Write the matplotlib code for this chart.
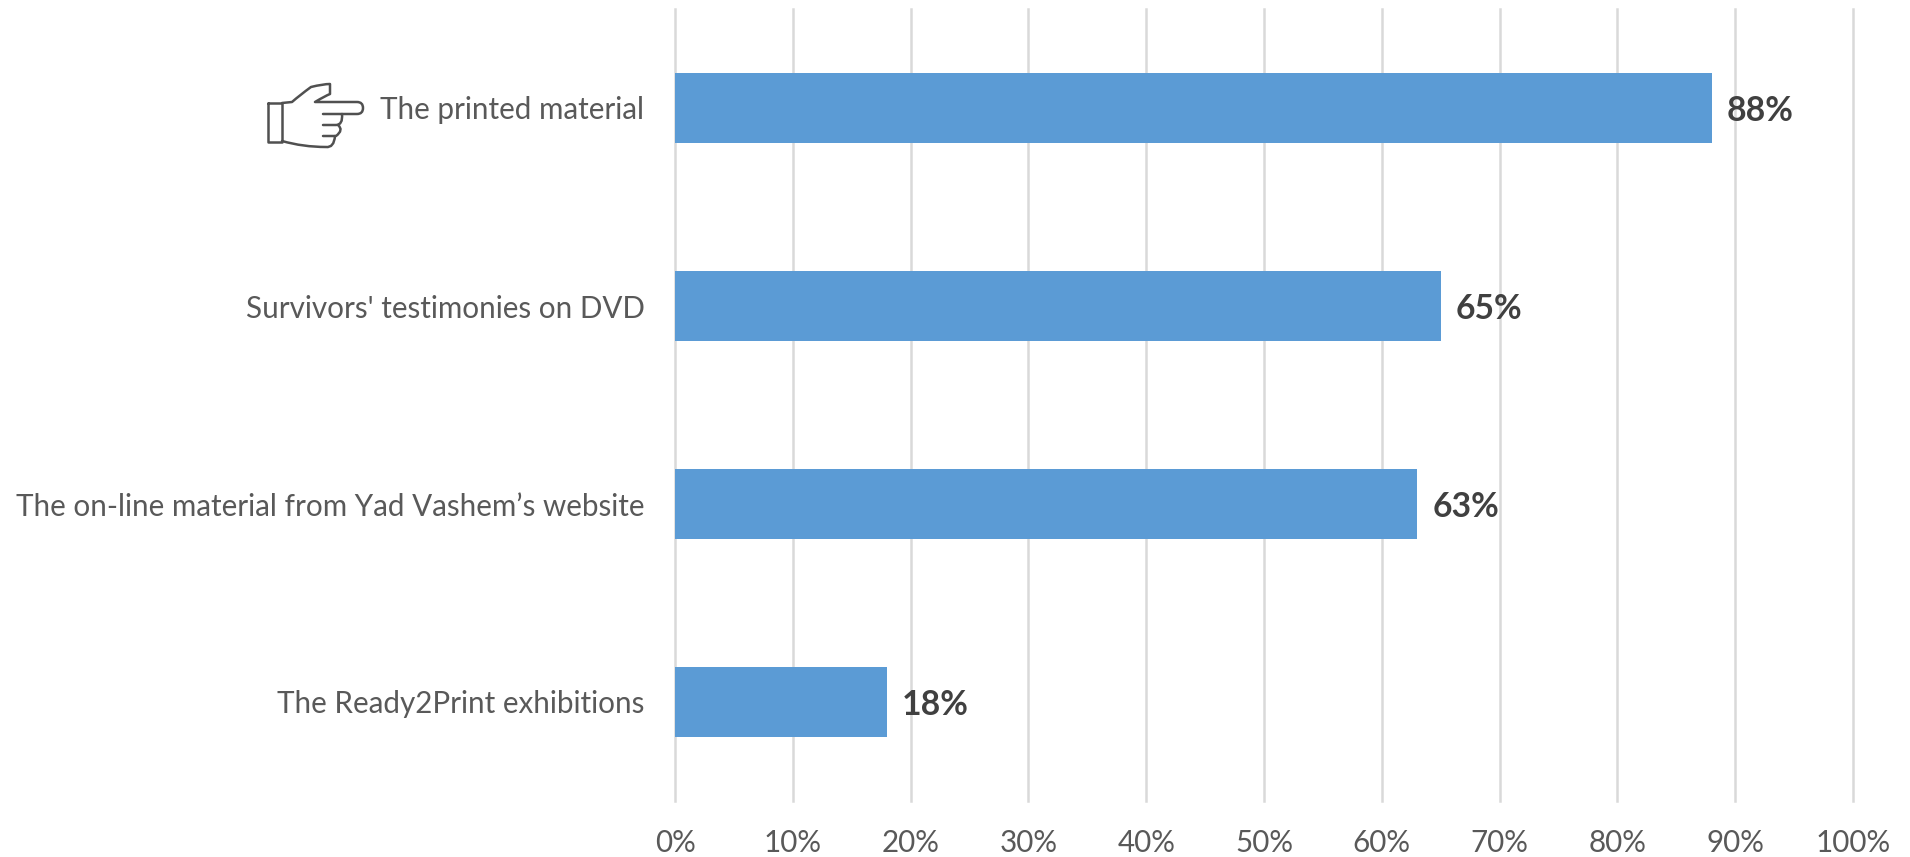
import matplotlib
matplotlib.use('Agg')
import matplotlib.pyplot as plt
from matplotlib.path import Path
from matplotlib.patches import PathPatch

categories = ['The Ready2Print exhibitions',
              'The on-line material from Yad Vashem\u2019s website',
              "Survivors' testimonies on DVD",
              'The printed material']
values = [18, 63, 65, 88]
xticks = list(range(0, 101, 10))

W, H = 1910, 857
plt.rcParams['font.family'] = ['Lato', 'DejaVu Sans']

fig = plt.figure(figsize=(W / 100, H / 100), dpi=100)
ax = fig.add_axes([675 / W, 1 - 801 / H, (1853 - 675) / W, (801 - 9) / H])

ax.barh(range(len(values)), values, height=0.355, color='#5b9bd5', zorder=3)
for i, v in enumerate(values):
    ax.annotate(f'{v}%', (v, i), xytext=(15, -3), textcoords='offset pixels',
                va='center', ha='left', fontsize=24.3, fontweight='bold', color='#404040')

ax.set_xlim(0, 100)
ax.set_ylim(-0.5, 3.5)
ax.set_xticks(xticks)
ax.set_xticklabels([f'{t}%' for t in xticks], fontsize=21.3, color='#595959')
ax.set_yticks(range(len(categories)))
ax.set_yticklabels(categories, fontsize=21.3, color='#595959')
ax.tick_params(axis='both', length=0)
ax.tick_params(axis='x', pad=20.5)
ax.tick_params(axis='y', pad=22)
ax.grid(axis='x', color='#d9d9d9', linewidth=1.8, zorder=0, clip_on=False)
ax.grid(axis='y', visible=False)
for s in ax.spines.values():
    s.set_visible(False)


# pointing hand next to the top category, in pixel coordinates
def px(p):
    return (p[0] / W, 1 - p[1] / H)


M, L, C = Path.MOVETO, Path.LINETO, Path.CURVE3
hand = [
    # cuff
    ([(268, 103), (282, 103), (282, 142), (268, 142), (268, 103)],
     [M, L, L, L, L]),
    # wrist up over the thumb, then along the index finger
    ([(282, 103), (292, 102), (300, 95), (311, 87), (323, 84), (330, 84), (330, 90),
      (330, 94), (325, 96), (315, 102), (315, 102), (357, 102), (363, 102), (363, 108),
      (363, 114), (357, 114), (323, 114)],
     [M, L, C, C, C, C, C, C, C, C, L, L, C, C, C, L, L]),
    # folded fingers
    ([(342, 114), (343, 125), (336, 125), (323, 125)], [M, C, C, L]),
    ([(338, 125), (344, 130), (336, 136), (323, 136)], [M, C, C, L]),
    # bottom of the palm back to the wrist
    ([(335, 136), (334, 148), (326, 147), (303, 147), (282, 141)], [M, C, C, C, C]),
]
for verts, codes in hand:
    fig.add_artist(PathPatch(Path([px(p) for p in verts], codes), transform=fig.transFigure,
                             fill=False, edgecolor='#505050', linewidth=1.8, joinstyle='round',
                             capstyle='round'))

fig.savefig('out.png', dpi=100, facecolor='white')
